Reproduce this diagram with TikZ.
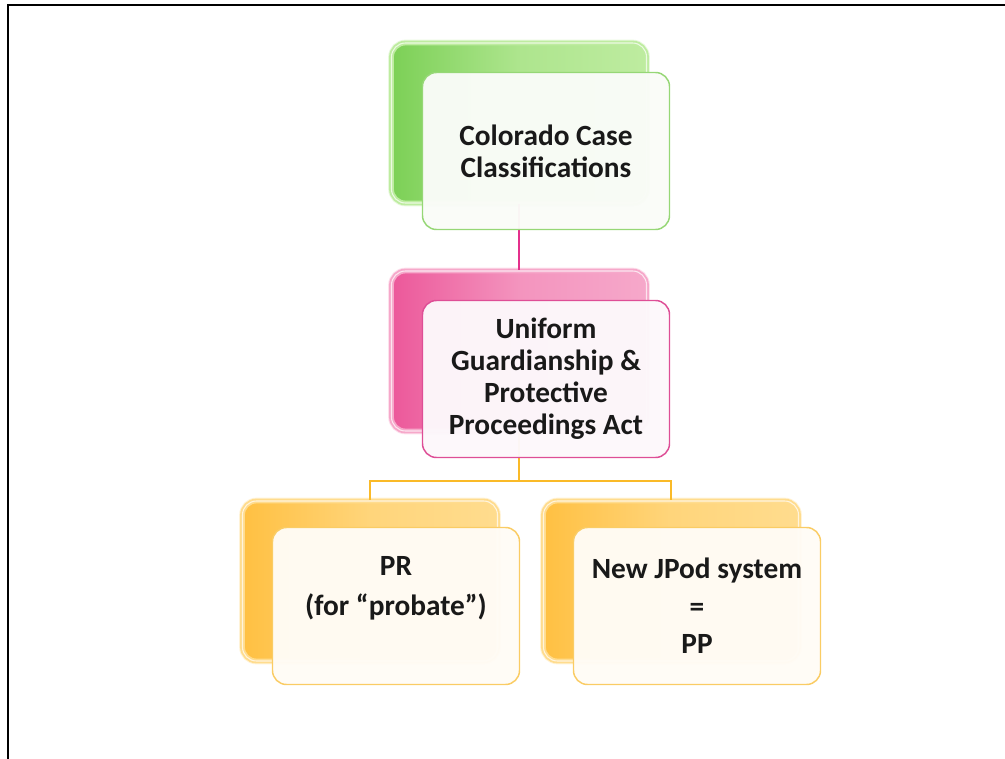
\documentclass[tikz,border=0pt]{standalone}
\usepackage{fontspec}
\setmainfont{Carlito}
\usepackage{tikz}
\usetikzlibrary{positioning,backgrounds,calc}

\definecolor{cccdark}{RGB}{124,208,86}
\definecolor{ccclight}{RGB}{190,236,160}
\definecolor{cccedge}{RGB}{150,215,118}
\definecolor{cccfill}{RGB}{250,252,248}
\definecolor{ugpdark}{RGB}{236,88,154}
\definecolor{ugplight}{RGB}{246,168,202}
\definecolor{ugpedge}{RGB}{222,78,150}
\definecolor{ugpfill}{RGB}{253,248,251}
\definecolor{prdark}{RGB}{255,192,66}
\definecolor{prlight}{RGB}{255,220,142}
\definecolor{predge}{RGB}{250,204,100}
\definecolor{prfill}{RGB}{255,252,246}
\definecolor{pinkline}{RGB}{228,48,140}
\definecolor{orangeline}{RGB}{250,186,40}

\tikzstyle{backbox} = [rectangle, rounded corners=10.5pt, inner sep=0pt,
    minimum width=191.25pt, minimum height=120pt,
    line width=1.4pt, double distance=0.8pt]
\tikzstyle{frontbox} = [rectangle, rounded corners=10.5pt, inner sep=0pt,
    minimum width=185.25pt, minimum height=117.75pt, line width=1.1pt,
    align=center, text=black!90, fill opacity=0.97, text opacity=1,
    font=\bfseries\fontsize{22pt}{24pt}\selectfont]
\tikzstyle{link} = [line width=1.3pt]

\begin{document}
\begin{tikzpicture}[x=0.75pt,y=-0.75pt]
    \useasboundingbox (0,0) rectangle (1005,759);
    \draw[line width=2pt] (1005,5) -- (8,5) -- (8,759);

    % back boxes
    \node[backbox, draw=ccclight, double=white!70!ccclight, left color=cccdark, right color=ccclight,
        middle color=ccclight!75!cccdark,
        preaction={draw=ccclight, line width=5pt, draw opacity=0.35}] (cccback) at (519,123) {};
    \node[backbox, draw=ugplight, double=white!70!ugplight, left color=ugpdark, right color=ugplight,
        middle color=ugplight!75!ugpdark,
        preaction={draw=ugplight, line width=5pt, draw opacity=0.35}] (ugpback) at (519,351) {};
    \node[backbox, draw=prlight, double=white!70!prlight, left color=prdark, right color=prlight,
        middle color=prlight!75!prdark,
        preaction={draw=prlight, line width=5pt, draw opacity=0.35}] (prback) at (370,581) {};
    \node[backbox, draw=prlight, double=white!70!prlight, left color=prdark, right color=prlight,
        middle color=prlight!75!prdark,
        preaction={draw=prlight, line width=5pt, draw opacity=0.35}] (ppback) at (671,581) {};

    % connectors
    \coordinate (split) at (519,481);
    \draw[link, draw=pinkline] (cccback) -- (ugpback);
    \draw[link, draw=orangeline] (ugpback.south) -- (split) -| (prback.north);
    \draw[link, draw=orangeline] (split) -| (ppback.north);

    % front boxes
    \node[frontbox, draw=cccedge, fill=cccfill] (ccc) at ([shift={(27,28)}]cccback.center)
        {Colorado Case\\Classifications};
    \node[frontbox, draw=ugpedge, fill=ugpfill] (ugp) at ([shift={(27,28)}]ugpback.center)
        {Uniform\\Guardianship \&\\Protective\\Proceedings Act};
    \node[frontbox, draw=predge, fill=prfill] (pr) at ([shift={(26,25)}]prback.center)
        {PR\\[6pt](for “probate”)\\[6pt]~};
    \node[frontbox, draw=predge, fill=prfill] (pp) at ([shift={(26,25)}]ppback.center)
        {New JPod system\\[4pt]=\\[4pt]PP};
\end{tikzpicture}
\end{document}
